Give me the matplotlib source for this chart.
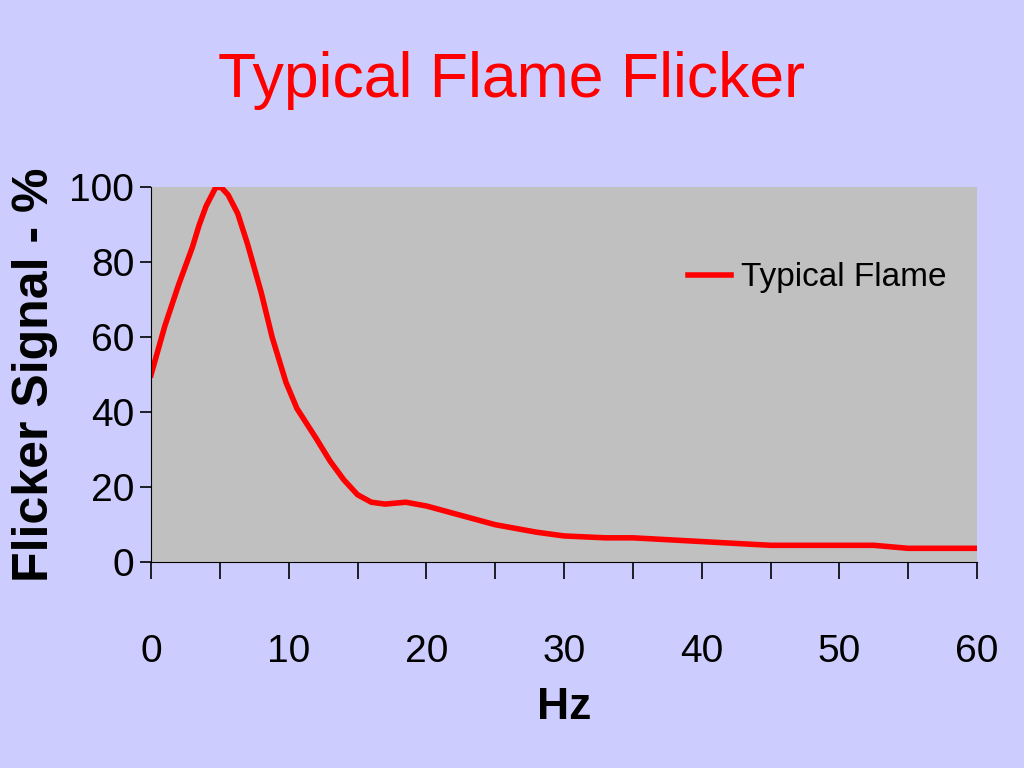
import matplotlib
matplotlib.use("Agg")
import matplotlib.pyplot as plt
from matplotlib import font_manager

hz = [0, 1, 2, 3, 3.5, 4, 4.7, 5.1, 5.6, 6.3, 7, 8, 8.8, 9.8, 10.6, 12, 13, 14, 15, 16,
      17, 18.5, 20, 22, 25, 28, 30, 33, 35, 40, 45, 50, 52.5, 55, 60]
signal = [50, 63, 74, 84, 90, 95, 100, 100, 98, 93, 85, 72, 60, 48, 41, 33, 27, 22, 18, 16,
          15.5, 16, 15, 13, 10, 8, 7, 6.5, 6.5, 5.5, 4.5, 4.5, 4.5, 3.7, 3.7]

names = {f.name for f in font_manager.fontManager.ttflist}
narrow = 'Liberation Sans Narrow' if 'Liberation Sans Narrow' in names else 'Liberation Sans'
plt.rcParams['font.family'] = ['Liberation Sans', 'DejaVu Sans']

fig = plt.figure(figsize=(10.24, 7.68), dpi=100, facecolor='#CCCCFF')
ax = fig.add_axes([0.1475, 0.268, 0.8066, 0.488])
ax.set_facecolor('#C0C0C0')
ax.plot(hz, signal, color='red', linewidth=4, label='Typical Flame')
ax.set_xlim(0, 60)
ax.set_ylim(0, 100)
ax.set_xticks(range(0, 61, 5))
ax.set_xticklabels([str(v) if v % 10 == 0 else '' for v in range(0, 61, 5)])
ax.set_yticks(range(0, 101, 20))
for s in ['top', 'right']:
    ax.spines[s].set_visible(False)
ax.tick_params(axis='x', direction='out', length=12, pad=40, width=1.2)
ax.tick_params(axis='y', direction='out', length=8, pad=4, width=1.2)
for lab in ax.get_xticklabels() + ax.get_yticklabels():
    lab.set_family([narrow, 'DejaVu Sans'])
    lab.set_fontsize(28)

ax.set_xlabel('Hz', family=[narrow, 'DejaVu Sans'], fontsize=32, fontweight='bold', labelpad=12)
ax.set_ylabel('Flicker Signal - %', fontsize=36, fontweight='bold', labelpad=8)
fig.text(0.5, 0.895, 'Typical Flame Flicker', color='red', ha='center', va='center', fontsize=45)

leg = ax.legend(loc='upper right', bbox_to_anchor=(1.0, 0.88), frameon=False,
                prop={'family': [narrow, 'DejaVu Sans'], 'size': 24},
                handlelength=1.3, handletextpad=0.3)

fig.savefig('out.png', dpi=100, facecolor=fig.get_facecolor())
